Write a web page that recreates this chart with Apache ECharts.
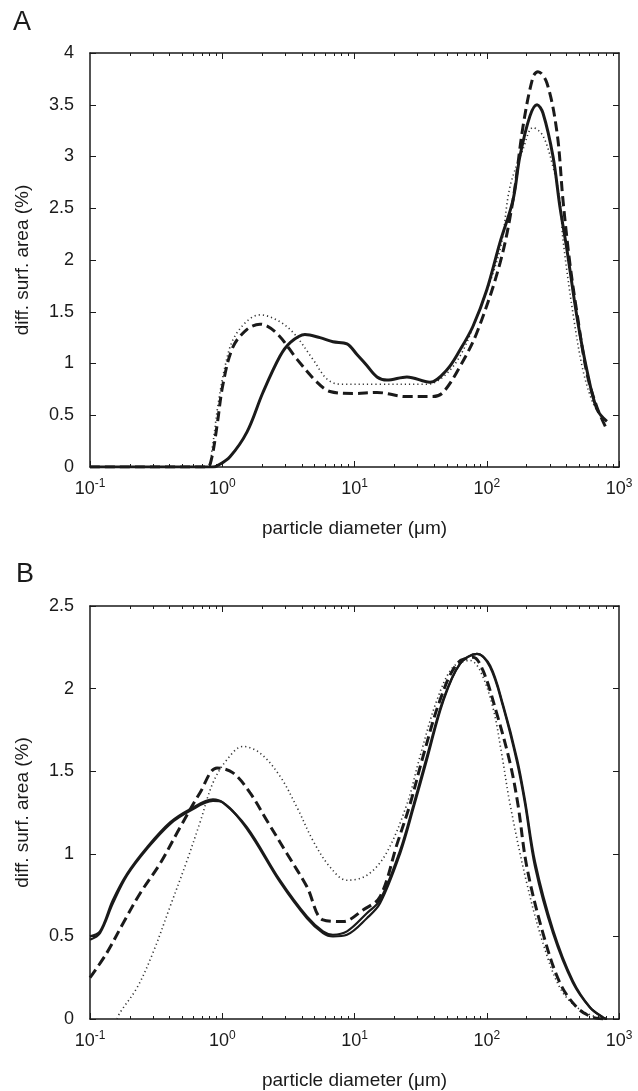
<!DOCTYPE html>
<html>
<head>
<meta charset="utf-8">
<script src="https://cdn.jsdelivr.net/npm/echarts@6/dist/echarts.min.js"></script>
<style>
html, body { margin: 0; padding: 0; background: #fff; }
#main { width: 638px; height: 1091px; }
</style>
</head>
<body>
<div id="main"></div>
<script>
// panel A: [diameter (um), diff. surf. area (%)]
var aSolid = [[0.1,0],[0.85,0],[0.913,0.01],[1.144,0.1],[1.54,0.34],[2.03,0.72],[2.73,1.07],[3.25,1.2],[4.22,1.28],[5.48,1.25],[6.87,1.21],[8.77,1.19],[10.4,1.09],[12.4,0.98],[14.8,0.87],[17.6,0.84],[24.9,0.87],[37.2,0.82],[50,0.94],[62.7,1.13],[78.7,1.36],[100,1.71],[126,2.17],[158,2.58],[178,3.0],[212,3.39],[240,3.5],[266,3.42],[317,3.0],[357,2.52],[404,2.1],[481,1.45],[571,0.94],[680,0.56],[810,0.44]];
var aDashed = [[0.1,0],[0.767,0],[0.83,0.08],[0.913,0.4],[1.013,0.8],[1.206,1.16],[1.54,1.33],[1.93,1.38],[2.59,1.29],[3.68,1.04],[5.2,0.82],[6.53,0.73],[9.74,0.71],[14.8,0.72],[24.9,0.68],[39.2,0.68],[46.7,0.72],[62.7,0.97],[84.3,1.3],[126,1.97],[158,2.58],[188,3.29],[224,3.77],[244,3.82],[285,3.71],[340,3.23],[377,2.58],[425,1.97],[481,1.49],[571,0.91],[680,0.58],[810,0.36]];
var aDotted = [[0.1,0],[0.78,0],[0.837,0.17],[0.929,0.6],[1.049,0.97],[1.206,1.23],[1.54,1.41],[1.93,1.47],[2.59,1.42],[3.43,1.3],[4.85,1.04],[6.19,0.85],[7.76,0.8],[14.8,0.8],[35.3,0.8],[46.7,0.87],[62.7,1.07],[84.3,1.45],[126,2.1],[150,2.71],[188,3.07],[224,3.28],[266,3.2],[317,2.9],[357,2.58],[377,2.2],[448,1.49],[533,0.94],[635,0.62],[755,0.46]];

// panel B
var bSolid = [[0.1,0.5],[0.119,0.53],[0.149,0.72],[0.191,0.88],[0.27,1.04],[0.403,1.19],[0.571,1.27],[0.851,1.33],[1.013,1.31],[1.54,1.16],[2.73,0.84],[4.37,0.62],[5.78,0.53],[6.87,0.51],[8.77,0.53],[12.4,0.64],[15.6,0.72],[22.1,1.02],[28,1.3],[35.3,1.59],[46.7,1.93],[62.7,2.15],[84.3,2.21],[106,2.13],[133,1.89],[170,1.55],[195,1.3],[232,0.92],[317,0.52],[448,0.22],[604,0.07],[755,0.01],[810,0]];
var bSolid2 = [[0.1,0.48],[0.119,0.52],[0.149,0.7],[0.191,0.87],[0.27,1.03],[0.403,1.18],[0.571,1.26],[0.851,1.32],[1.013,1.31],[1.54,1.15],[2.73,0.83],[4.37,0.61],[5.78,0.52],[6.87,0.5],[8.77,0.51],[12.4,0.61],[15.6,0.7],[22.1,1.0],[28,1.28],[35.3,1.57],[46.7,1.92],[62.7,2.15],[84.3,2.21],[106,2.14],[133,1.9],[170,1.57],[195,1.32],[232,0.95],[317,0.54],[448,0.23],[604,0.07],[755,0.01],[810,0]];
var bDashed = [[0.1,0.25],[0.134,0.4],[0.178,0.58],[0.239,0.76],[0.338,0.94],[0.48,1.16],[0.679,1.37],[0.913,1.52],[1.206,1.49],[1.62,1.37],[2.18,1.2],[3.09,1.0],[4.37,0.8],[5.78,0.6],[8.18,0.59],[11.6,0.66],[15.6,0.74],[21,1.06],[26.3,1.3],[33,1.59],[44.3,1.93],[59.6,2.15],[78.7,2.19],[93.6,2.11],[119,1.85],[150,1.55],[172,1.3],[201,0.92],[266,0.52],[357,0.22],[481,0.07],[635,0.01],[810,0]];
var bDotted = [[0.16,0],[0.169,0.04],[0.227,0.19],[0.299,0.4],[0.403,0.68],[0.542,0.96],[0.679,1.19],[0.851,1.43],[1.086,1.57],[1.435,1.65],[1.93,1.61],[2.73,1.47],[3.68,1.28],[4.85,1.08],[6.53,0.92],[8.77,0.84],[12.4,0.87],[17.3,1.0],[24.9,1.3],[31.3,1.59],[42,1.93],[55.6,2.13],[74.6,2.17],[88.9,2.11],[111,1.89],[130,1.6],[150,1.3],[201,0.82],[266,0.46],[357,0.19],[481,0.07],[680,0.01],[810,0]];

var yMax = [4, 2.5];
var xTitle = 'particle diameter (\u03bcm)';
var yTitle = 'diff. surf. area (%)';

var font = 'Liberation Sans, Arial, Helvetica, sans-serif';
var ink = '#1a1a1a';

// minor tick positions on the log10 scale (2..9 of every decade)
var minorTicks = [];
for (var d = -1; d < 3; d++) {
    for (var k = 2; k <= 9; k++) minorTicks.push(d + Math.log10(k));
}

var myChart = echarts.init(document.getElementById('main'));

var grids = [
    { left: 90, top: 53, width: 529, height: 414 },
    { left: 90, top: 606, width: 529, height: 413 }
];

var xAxes = [], yAxes = [];
grids.forEach(function (g, gi) {
    var line = { show: true, onZero: false, lineStyle: { color: ink, width: 1.5 } };
    var noLine = { show: false, onZero: false };
    xAxes.push({
        gridIndex: gi, type: 'log', logBase: 10, min: 0.1, max: 1000, position: 'bottom',
        axisLine: line,
        axisTick: { inside: true, length: 6, lineStyle: { color: ink } },
        splitLine: { show: false },
        axisLabel: {
            color: ink, fontSize: 18, fontFamily: font, margin: 11,
            formatter: function (v) {
                return '10{s|' + Math.round(Math.log10(v)) + '}';
            },
            rich: { s: { fontSize: 12, fontFamily: font, color: ink, verticalAlign: 'top', padding: [0, 0, 10, 0] } }
        },
        name: xTitle, nameLocation: 'middle', nameGap: 52,
        nameTextStyle: { color: ink, fontSize: 19, fontFamily: font }
    });
    xAxes.push({
        gridIndex: gi, type: 'value', min: -1, max: 3, position: 'bottom',
        axisLine: noLine, axisLabel: { show: false }, splitLine: { show: false },
        axisTick: { inside: true, length: 3, customValues: minorTicks, lineStyle: { color: ink } }
    });
    xAxes.push({
        gridIndex: gi, type: 'value', min: -1, max: 3, position: 'top',
        axisLine: line, axisLabel: { show: false }, splitLine: { show: false },
        axisTick: { inside: true, length: 6, customValues: [0, 1, 2], lineStyle: { color: ink } }
    });
    xAxes.push({
        gridIndex: gi, type: 'value', min: -1, max: 3, position: 'top',
        axisLine: noLine, axisLabel: { show: false }, splitLine: { show: false },
        axisTick: { inside: true, length: 3, customValues: minorTicks, lineStyle: { color: ink } }
    });
    yAxes.push({
        gridIndex: gi, type: 'value', min: 0, max: yMax[gi], interval: 0.5, position: 'left',
        axisLine: line,
        axisTick: { inside: true, length: 6, lineStyle: { color: ink } },
        splitLine: { show: false },
        axisLabel: { color: ink, fontSize: 18, fontFamily: font, margin: 16 },
        name: yTitle, nameLocation: 'middle', nameGap: 58,
        nameTextStyle: { color: ink, fontSize: 19, fontFamily: font }
    });
    yAxes.push({
        gridIndex: gi, type: 'value', min: 0, max: yMax[gi], interval: 0.5, position: 'right',
        axisLine: line,
        axisTick: { inside: true, length: 6, lineStyle: { color: ink } },
        splitLine: { show: false },
        axisLabel: { show: false }
    });
});

function curve(data, gi, style) {
    return {
        type: 'line', data: data, xAxisIndex: gi * 4, yAxisIndex: gi * 2,
        smooth: 0.35, showSymbol: false, silent: true,
        lineStyle: style
    };
}

var solid = { color: ink, width: 3, type: 'solid' };
var dashed = { color: ink, width: 3, type: [10, 5] };
var dotted = { color: '#333', width: 1.6, type: [1.2, 3] };

option = {
    animation: false,
    backgroundColor: '#fff',
    title: [
        { text: 'A', left: 8, top: 4, textStyle: { fontSize: 27, fontWeight: 'normal', color: ink, fontFamily: font } },
        { text: 'B', left: 11, top: 556, textStyle: { fontSize: 27, fontWeight: 'normal', color: ink, fontFamily: font } }
    ],
    grid: grids,
    xAxis: xAxes,
    yAxis: yAxes,
    series: [
        curve(aDotted, 0, dotted),
        curve(aDashed, 0, dashed),
        curve(aSolid, 0, solid),
        curve(bDotted, 1, dotted),
        curve(bDashed, 1, dashed),
        curve(bSolid2, 1, { color: ink, width: 2.2, type: 'solid' }),
        curve(bSolid, 1, { color: ink, width: 2.2, type: 'solid' })
    ]
};
myChart.setOption(option);
</script>
</body>
</html>
